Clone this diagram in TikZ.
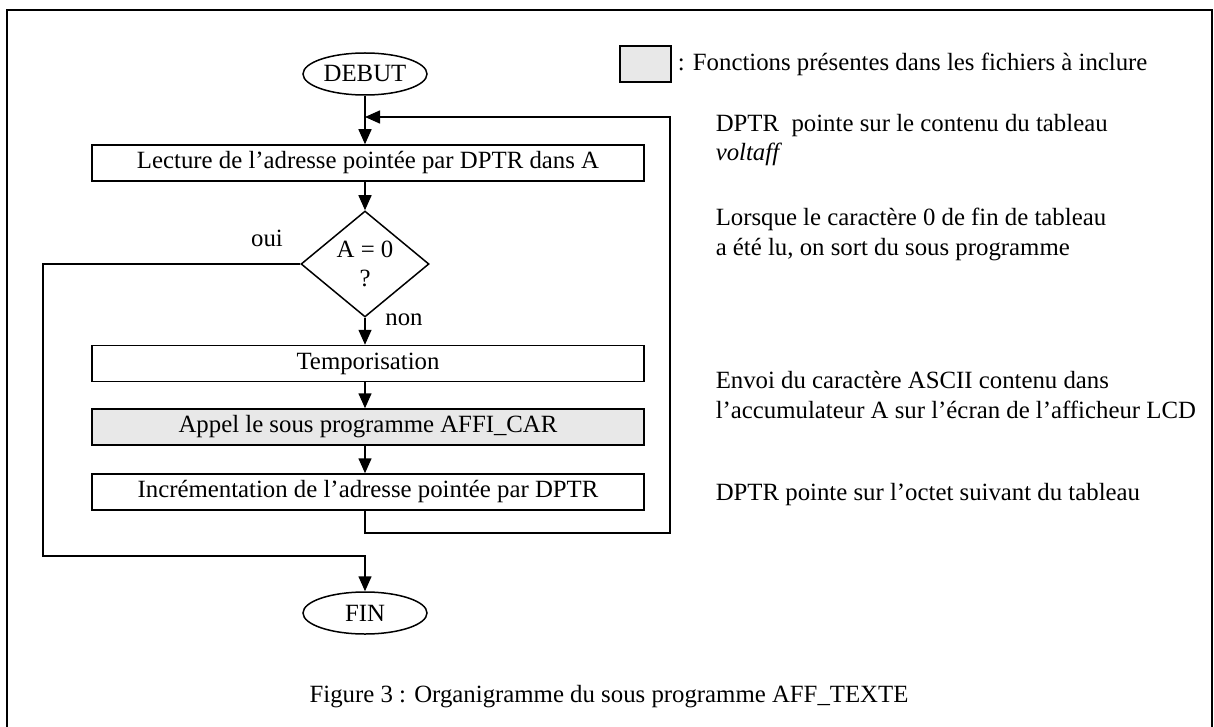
\documentclass[tikz,border=0pt]{standalone}
\usepackage{fontspec}
\setmainfont{Liberation Serif}
\usetikzlibrary{shapes.geometric,arrows.meta}
\definecolor{boxgray}{RGB}{232,232,232}
\begin{document}
\begin{tikzpicture}[x=1pt,y=-1pt,
  line width=1.5pt,
  every node/.style={font=\fontsize{24.8}{29.5}\selectfont, inner sep=0pt},
  proc/.style={draw, rectangle, minimum width=552pt, minimum height=36pt},
  term/.style={draw, ellipse, minimum width=124pt, minimum height=42pt},
  decision/.style={draw, diamond, minimum width=128pt, minimum height=106pt, align=center},
  arr/.style={-{Triangle[length=15pt,width=13pt]}},
  note/.style={anchor=base west, align=left}]
\useasboundingbox (0,0) rectangle (1214,727);

% outer frame, open at the bottom
\draw[line width=2pt] (7,727) -- (7,10) -- (1212,10) -- (1212,727);

% flowchart blocks
\node[term] (debut) at (365,74) {DEBUT};
\node[proc] (lect) at (368,163) {Lecture de l’adresse pointée par DPTR dans A};
\node[decision] (test) at (365,264) {A = 0\\?};
\node[proc] (tempo) at (368,363.5) {Temporisation};
\node[proc, fill=boxgray] (appel) at (368,427) {Appel le sous programme AFFI\_CAR};
\node[proc] (incr) at (368,492) {Incrémentation de l’adresse pointée par DPTR};
\node[term] (fin) at (365,613) {FIN};

\node (oui) at (267,238) {oui};
\node (non) at (404,320) {non};

% loop and exit routing points
\coordinate (join) at (365,117);
\coordinate (loopR) at (670,533);
\coordinate (ouiL) at (43,556);

% connectors
\draw[arr] (debut) -- (debut |- lect.north);
\draw[arr] (lect.south -| test) -- (test.north);
\draw[arr] (test.south) -- (test.south |- tempo.north);
\draw[arr] (tempo.south -| test) -- (test |- appel.north);
\draw[arr] (appel.south -| test) -- (test |- incr.north);
\draw[arr] (incr.south -| test) |- (loopR) |- (join);
\draw[arr] (test.west) -| (ouiL) -| (fin.north);

% legend
\node[draw, fill=boxgray, minimum width=51pt, minimum height=36pt] (leg) at (645.5,64) {};
\node[anchor=west] (legtxt) at (677,64) {: Fonctions présentes dans les fichiers à inclure};

% comments beside the flowchart
\node[note] (n1) at (715,161) {DPTR\ \ pointe sur le contenu du tableau\\\textit{voltaff}};
\node[note] (n2) at (715,255) {Lorsque le caractère 0 de fin de tableau\\a été lu, on sort du sous programme};
\node[note] (n3) at (715,418) {Envoi du caractère ASCII contenu dans\\l’accumulateur A sur l’écran de l’afficheur LCD};
\node[note] (n4) at (715,500) {DPTR pointe sur l’octet suivant du tableau};

% caption
\node (cap) at (609,697) {Figure 3 : Organigramme du sous programme AFF\_TEXTE};
\end{tikzpicture}
\end{document}
